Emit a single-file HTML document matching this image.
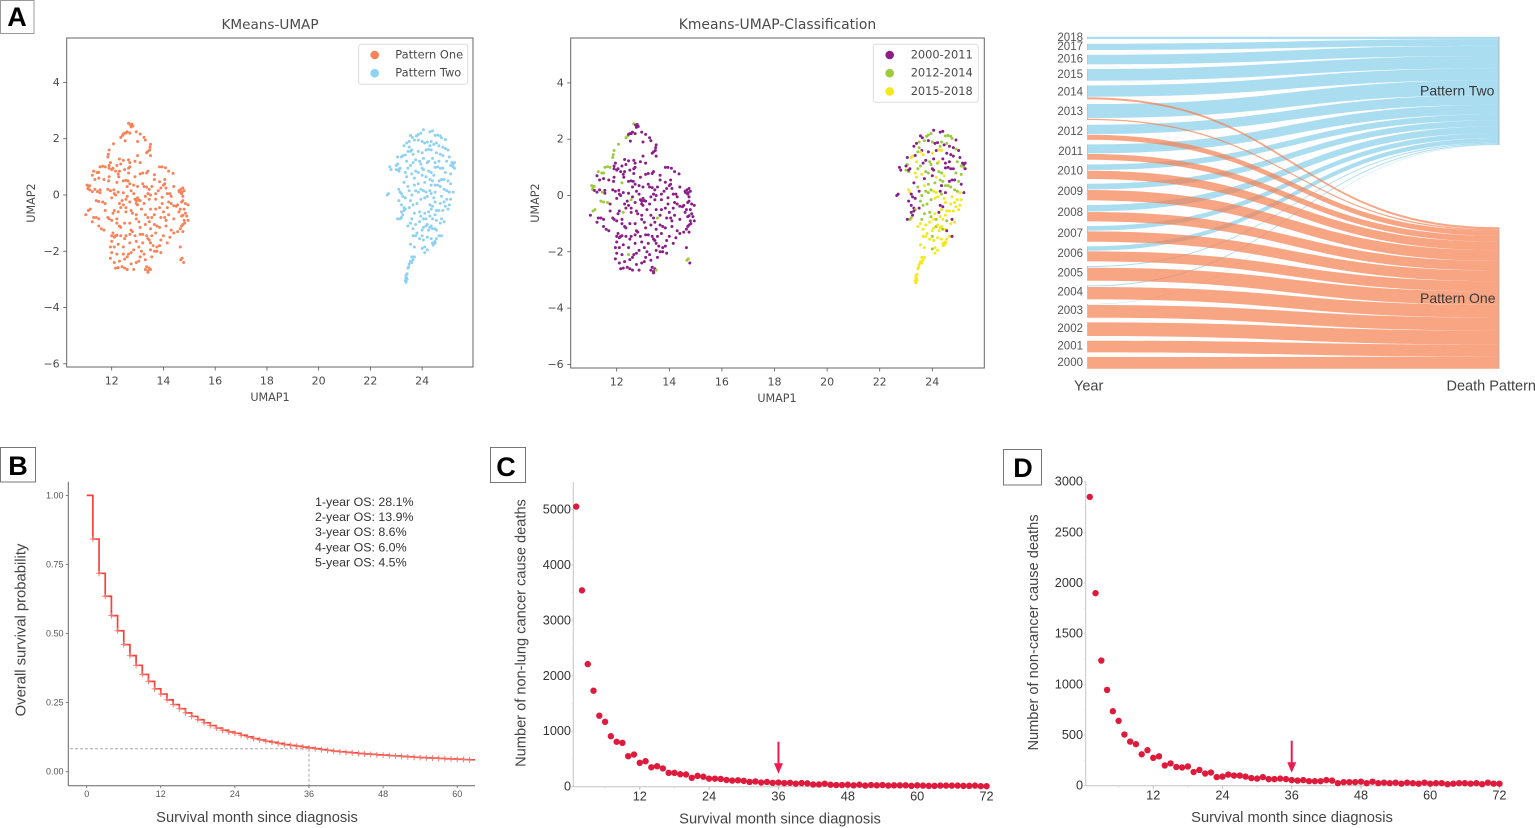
<!DOCTYPE html>
<html lang="en">
<head>
<meta charset="utf-8">
<title>Death pattern and survival figure</title>
<style>
html,body{margin:0;padding:0;background:#fff;}
body{width:1535px;height:828px;overflow:hidden;}
svg{display:block;}
text{dominant-baseline:central;}
.dv{font-family:"DejaVu Sans",sans-serif;fill:#4a4a4a;}
.ls{font-family:"Liberation Sans",sans-serif;}
.panel-letter{font-family:"Liberation Sans",sans-serif;font-weight:700;font-size:27px;fill:#000;text-anchor:middle;}
</style>
</head>
<body>
<svg id="figure" xmlns="http://www.w3.org/2000/svg" width="1535" height="828" viewBox="0 0 1535 828">
<rect x="0" y="0" width="1535" height="828" fill="#ffffff"/>

<g><rect x="0.5" y="0.5" width="33.5" height="33" fill="#fff" stroke="#999"/><text class="panel-letter" x="17" y="17">A</text></g>
<g><rect x="0.5" y="447.5" width="35" height="34.5" fill="#fff" stroke="#777"/><text class="panel-letter" x="18" y="466">B</text></g>
<g><rect x="490.5" y="447.5" width="35" height="35" fill="#fff" stroke="#777"/><text class="panel-letter" x="506" y="467">C</text></g>
<g><rect x="1003.5" y="449.5" width="38" height="35.5" fill="#fff" stroke="#777"/><text class="panel-letter" x="1023" y="468">D</text></g>

<g id="umapOne">
  <text class="dv" x="270" y="25" font-size="13.6" text-anchor="middle">KMeans-UMAP</text>
  <text class="dv" x="270" y="397.5" font-size="11.2" text-anchor="middle">UMAP1</text>
  <text class="dv" x="31.5" y="203" font-size="11.2" text-anchor="middle" transform="rotate(-90 31.5 203)">UMAP2</text>
</g>
<g id="umapTwo">
  <text class="dv" x="777.5" y="25" font-size="13.9" text-anchor="middle">Kmeans-UMAP-Classification</text>
  <text class="dv" x="777" y="398.5" font-size="11.2" text-anchor="middle">UMAP1</text>
  <text class="dv" x="535.5" y="203" font-size="11.2" text-anchor="middle" transform="rotate(-90 535.5 203)">UMAP2</text>
</g>
<g id="sankey"></g>
<g id="km">
  <text class="ls" x="257" y="818" font-size="14.7" fill="#444" text-anchor="middle">Survival month since diagnosis</text>
  <text class="ls" x="21.5" y="630" font-size="14.8" fill="#444" text-anchor="middle" transform="rotate(-90 21.5 630)">Overall survival probability</text>
  <g class="ls" font-size="12.4" fill="#333">
    <text x="315" y="502">1-year OS: 28.1%</text>
    <text x="315" y="517">2-year OS: 13.9%</text>
    <text x="315" y="532">3-year OS: 8.6%</text>
    <text x="315" y="547.3">4-year OS: 6.0%</text>
    <text x="315" y="562.3">5-year OS: 4.5%</text>
  </g>
</g>
<g id="chartC">
  <text class="ls" x="780" y="819.3" font-size="14.7" fill="#444" text-anchor="middle">Survival month since diagnosis</text>
  <text class="ls" x="521.5" y="633" font-size="14.6" fill="#444" text-anchor="middle" transform="rotate(-90 521.5 633)">Number of non-lung cancer cause deaths</text>
</g>
<g id="chartD">
  <text class="ls" x="1292" y="818" font-size="14.7" fill="#444" text-anchor="middle">Survival month since diagnosis</text>
  <text class="ls" x="1034" y="632.5" font-size="14.6" fill="#444" text-anchor="middle" transform="rotate(-90 1034 632.5)">Number of non-cancer cause deaths</text>
</g>
</svg>

<script>
// ---------- UMAP data: [UMAP1, UMAP2, year group (0 = 2000-2011 default, 1 = 2012-2014, 2 = 2015-2018)] ----------
const patternOnePoints = [
[12.65,2.55,1],[12.72,2.5],[12.78,2.52],[12.82,2.45],[12.75,2.42],[12.5,2.2],[12.42,2.12,1],[12.45,2.17],[12.55,2.2],[12.6,2.25],[12.35,2.05,1],[12.7,2.2],[12.95,2.25],[13.1,2.17],[13.25,2.05],[13.3,1.95],[12.52,1.93],[13,1.9],
[12.07,1.82,1],[11.9,1.6,1],[11.87,1.45,1],[11.85,1.35,1],[13.5,1.8],[13.48,1.7],[13.47,1.6],[13.4,1.55],[13.35,1.5],[13.5,1.4],[13,1.4],
[12.3,1.28],[12.45,1.23],[12.65,1.25],[12.7,1.15],[11.95,1.15],[11.9,1.05],[12.35,1.1],[12.2,1.05],[12.7,1],[12.65,0.95],[13.1,1.15],[12.9,1.2],
[11.55,1,1],[11.65,1.02,1],[11.75,1,1],[11.9,0.95],[12,0.9],[12.05,0.95],[12.5,0.9],[12.3,0.85],[12.25,0.75],[12.27,0.65],[13.85,1],[13.95,1],[14.08,0.97],[14.2,0.85],[11.3,0.85,1],[11.43,0.8,1],[11.5,0.8,1],[11.25,0.7],[13.4,0.85],[13.1,0.75],[13.2,0.78],[13.35,0.78],[12.65,0.78],[13.65,0.72],[14.37,0.77],[14.05,0.55],[13.85,0.47],[14.05,0.4],[13.65,0.55],
[11.35,0.55],[11.5,0.6],[11.7,0.55],[11.9,0.65],[11.88,0.5],[12.2,0.45,1],[12.45,0.5],[12.55,0.52],[12.63,0.5],[12.7,0.4],[12.6,0.3],[12.85,0.35],[13,0.3],[13.2,0.4],[13.25,0.3],[13.35,0.28],[13.45,0.2],[13.55,0.3],
[11.05,0.35,1],[11.1,0.3,1],[11.15,0.33,1],[11.08,0.22,1],[11.15,0.18],[11.25,0.12],[11.35,0.2],[11.45,0.12,1],[11.55,0.18],[11.55,0.08],[11.85,0.2],[11.95,0.15],[12.08,0.18],[12.1,0.05],[12.15,0],[12.25,0.1],[12.45,0.08],[12.85,0.05],[13.5,0],[13.4,0.05],[13.9,0.25],[14,0.35],[14.15,0.05],[14.25,0.05],[14.3,-0.05],[14.6,0.15],[14.67,0.2],[14.72,0.1],[14.75,0.25],[14.7,0.05],[14.8,0.15],[14.62,0.1],[14.75,-0.05],[14.1,0.25],
[11.4,-0.2,1],[11.5,-0.23,1],[11.65,-0.25,1],[11.75,-0.3],[12,-0.1],[12.4,-0.2],[12.3,-0.3],[12.55,-0.15,1],[12.45,-0.35],[12.7,-0.25],[12.9,-0.15],[12.95,-0.2],[13,-0.1],[13.05,-0.18],[13.1,-0.2],[13.3,-0.05],[13.45,-0.15],[12.95,-0.3],[13.7,-0.15],[13.95,-0.08],[14.2,-0.25],[14.3,-0.3],[14.4,-0.38],[14.5,-0.4],[14.55,-0.35],[14.7,-0.25],[14.75,-0.2],[14.85,-0.3],[14.95,-0.35],[14.65,-0.5],[14.8,-0.5],[13,-0.35],[13.95,-0.3],
[11,-0.7],[11.1,-0.55,1],[11.17,-0.5,1],[11.3,-0.8],[11.4,-0.8],[11.5,-0.85],[11.85,-0.8],[11.9,-0.85],[12,-0.9],[12.1,-0.55],[12.05,-0.65],[12.25,-0.6,1],[12.35,-0.45],[12.55,-0.45],[12.75,-0.55],[12.8,-0.65],[12.55,-0.6],[13.5,-0.5],[13.7,-0.5],[13.4,-0.8],[13.45,-0.95],[14,-0.6],[14.05,-0.8],[14.2,-0.7],[14.7,-0.75],[14.75,-0.72],[14.85,-0.65],[14.9,-0.75],[14.8,-0.9],[14.95,-0.9],[14.6,-0.6],[14.1,-0.9],[13.65,-0.7],[13.55,-0.8,1],[13.3,-0.7],
[11.25,-0.95],[11.5,-1.1],[11.6,-1.2],[11.7,-1.25],[12.2,-1],[12.3,-1.1],[12.35,-1.15],[12.5,-1],[12.7,-1],[12.95,-0.85],[13.05,-0.95],[13.1,-1.15],[13.3,-1.05],[13.5,-1.2],[13.65,-1.05],[13.75,-1.1],[13.85,-1.15],[14.1,-1.1],[14.3,-1.25],[14.55,-1.3],[14.65,-1.2],[14.7,-1.1],[14.75,-1.05],[14.82,-1],[14.4,-1.35],[14.75,-1.3],
[12,-1.65],[12,-1.45],[12.05,-1.35],[12.1,-1.5],[12.15,-1.45],[12.2,-1.43],[12.35,-1.45],[12.5,-1.55],[12.55,-1.45],[12.7,-1.4],[12.8,-1.3],[12.9,-1.45],[13.1,-1.4],[13.2,-1.4],[13.4,-1.55],[13.35,-1.45],[13.45,-1.6],[13.5,-1.7],[13.6,-1.8],[13.75,-1.85],[13.85,-1.8],[13.9,-1.6],[14,-1.45],[14.15,-1.7],[14.25,-1.5],[13.2,-1.7],[13.05,-1.85],[12.85,-1.95],[12.75,-2.05],[12.65,-2.1],[12.6,-2.2],[12.5,-2.28],
[11.95,-1.85],[12.1,-1.85],[12,-2.05],[11.95,-2.25],[12.2,-2.1],[12.3,-2.35],[12.1,-2.4],[12.15,-2.6],[12.25,-2.58],[12.4,-2.55],[12.5,-2.6],[12.6,-2.65],[12.75,-2.45],[12.85,-2.65],[12.95,-2.4],[13.1,-2.2],[13.15,-2],[13.25,-2.1],[13.3,-2.3],[13.35,-2.55],[13.4,-2.7],[13.45,-2.6],[13.4,-2.75],[13.5,-2.65,1],[13.3,-2.65],[13.55,-2.2],[13.65,-2],[14.65,-1.85],[14.67,-2.3,1],[14.72,-2.25,1],[14.78,-2.4],[13.75,-2],[13.5,-1.95],[12.45,-2.1,1],
[12.15,0.85],[12.9,0.65],[13.8,0.15],[13.7,0.05],[12.6,-0.05],[12.75,0.15],[13.15,-0.5],[13.25,-0.3],[12.2,-0.85],[11.75,-0.55],[13.9,-0.8],[13.85,-0.45],[14.15,-0.45],[12.95,-0.7],[12.75,-1.25],[13.7,-1.35],[13.55,-1.45],[13.05,-2.35],[12.45,-1.85],[12.25,-1.75],[12.7,-1.7],[12.95,-1.65],[13.9,-2.05],[14.4,-0.85],[14.4,0.3]
];
const patternTwoPoints = [
[24.05,2.32,0],[24.3,2.25,0],[24.4,2.28,0],[23.95,2.2,1],[23.85,2.15,1],[23.78,2.1,1],[23.55,2.12,0],[23.62,2.05,0],[24.5,2.12,1],[24.6,2.13,1],[24.7,2.1,1],[24.75,2.03,1],[24.9,1.97,0],
[23.4,1.85,0],[23.5,1.9,1],[23.7,1.95,1],[23.85,1.95,0],[24,1.9,1],[24.1,1.85,0],[24.2,1.88,0],[24.3,1.75,1],[24.35,1.9,1],[24.45,1.8,0],[24.55,1.85,1],[24.65,1.75,0],[24.8,1.7,0],[24.9,1.65,1],
[23.3,1.75,0],[23.45,1.55,1],[23.5,1.7,1],[23.6,1.6,0],[23.65,1.45,2],[23.25,1.4,2],[23.2,1.35,2],[23.05,1.35,0],[23.35,1.42,0],[23.55,1.55,2],[23.85,1.55,0],[24,1.5,2],[24.15,1.6,0],[24.25,1.62,2],[24.35,1.6,2],[24.55,1.5,0],[24.7,1.45,0],[24.8,1.4,0],[25,1.6,0],[25.05,1.35,0],
[23.05,1.1,1],[23,1.05,0],[23.4,1.2,2],[23.75,1.25,0],[23.9,1.2,1],[23.95,1.1,1],[24.05,1.3,0],[24.2,1.15,1],[24.25,1.2,2],[24.4,1.3,0],[24.5,1.15,0],[24.65,1.2,0],[24.95,1.2,1],[25.15,1.15,0],[25.2,1.1,0],[25.25,1.15,0],[25.1,1.05,1],[25.2,1,1],
[22.75,1,0],[22.8,0.9,0],[23,0.9,1],[23.1,0.85,1],[23.15,0.95,0],[23.45,0.95,1],[23.55,1.05,1],[23.75,0.85,1],[23.85,0.8,1],[24,0.95,0],[24.05,0.9,0],[24.5,0.98,0],[24.6,1,0],[24.7,0.95,0],[25.25,0.95,0],[25.1,0.75,1],[24.35,0.8,1],[24.45,0.7,2],[23.35,0.8,2],[23.1,0.9,0],
[23.4,0.65,2],[23.6,0.75,2],[23.7,0.6,0],[24,0.7,0],[24.3,0.55,1],[24.4,0.5,1],[24.5,0.35,1],[24.65,0.5,0],[24.75,0.55,0],[24.6,0.35,1],[24.7,0.3,1],[24.85,0.55,0],[25,0.5,1],[25.1,0.4,0],[24.35,0.35,0],[24.1,0.45,1],[23.85,0.4,1],[23.7,0.35,2],
[22.65,0,0],[22.7,0.05,0],[23.1,0.2,2],[23.15,0.1,2],[23.2,0.05,0],[23.25,-0.05,0],[23.35,-0.1,0],[23.6,0,1],[23.75,0.15,1],[23.85,0.1,1],[23.95,0.2,1],[24.15,0.1,2],[24.3,0.15,0],[24.35,0.05,1],[24.5,0.1,0],[24.85,0.2,1],[24.95,0.15,1],[25.05,0.1,2],[25.2,0.1,0],[24.75,-0.05,2],[24.45,-0.1,2],
[23.1,-0.2,0],[23.2,-0.35,0],[23.3,-0.45,0],[23.35,-0.5,1],[23.65,-0.35,1],[23.8,-0.3,1],[24.1,-0.1,2],[24.2,-0.05,2],[24.3,-0.35,0],[24.4,-0.4,0],[24.35,-0.5,2],[24.5,-0.25,2],[24.7,-0.3,2],[24.85,-0.25,2],[24.9,-0.4,2],[24.95,-0.15,2],[25.1,-0.15,2],[25.05,-0.35,2],[25,-0.5,2],
[23.2,-0.6,0],[23.25,-0.7,0],[23.15,-0.85,1],[23.05,-0.85,0],[23.2,-0.8,1],[23.3,-0.55,0],[23.6,-0.85,1],[23.9,-0.6,1],[23.95,-0.75,1],[24.1,-0.65,2],[24.15,-0.85,1],[24.05,-0.85,2],[24.3,-0.75,2],[24.5,-0.7,2],[24.4,-0.85,2],[24.65,-0.55,2],[24.8,-0.55,2],[24.55,-0.9,1],[24.75,-0.85,0],
[23.45,-1.1,2],[23.55,-1,2],[23.65,-1.2,2],[23.75,-1.05,2],[23.8,-1.35,2],[23.75,-1.45,2],[23.65,-1.45,2],[24.15,-1.1,1],[24.2,-1.05,2],[24.3,-1.15,2],[24.35,-1.1,2],[24.25,-1.25,2],[24.4,-1.2,1],[24.5,-1.2,2],[24.55,-1.25,0],[24.7,-1,2],[24.85,-0.95,2],[24.05,-1.15,2],
[23.9,-1.55,2],[24,-1.45,1],[24.05,-1.6,2],[24.2,-1.5,2],[24.35,-1.55,2],[24.4,-1.7,2],[24.45,-1.75,2],[24.5,-1.65,2],[24.55,-1.55,2],[24.65,-1.45,2],[24.75,-1.45,0],[24.42,-1.78,2],[24.5,-1.7,2],[23.55,-1.75,2],[23.7,-1.85,2],[24.1,-1.85,2],[24.2,-1.95,2],[24.1,-2.05,2],[24,-1.9,1],
[23.6,-2.2,2],[23.65,-2.3,2],[23.55,-2.35,2],[23.7,-2.2,2],[23.6,-2.4,2],[23.5,-2.45,2],[23.45,-2.6,2],[23.42,-2.8,2],[23.38,-2.85,2],[23.4,-2.95,2],[23.35,-3.05,2],[23.38,-3.1,2],[23.42,-3,2],[23.37,-2.95,2],[23.48,-2.55,2],
[23.45,0.3,1],[23.5,0.15,0],[23.3,0.45,0],[23.55,-0.2,1],[23.95,-0.15,1],[24.05,0.15,2],[24.55,-0.55,2],[23.7,-0.65,1],[23.5,-0.45,0],[24.25,0.85,1],[24.15,0.65,2],[23.65,1.15,0],[24.8,0.95,0],[24.9,0.8,1],[24.25,-0.6,0],[24,-1.25,2],[23.9,-0.95,2]
];
const umapXTicks = [12,14,16,18,20,22,24];
const umapYTicks = [-6,-4,-2,0,2,4];
const patternLegend = ['Pattern One','Pattern Two'];
const yearGroupLegend = ['2000-2011','2012-2014','2015-2018'];

// ---------- Sankey data ----------
const sankeyYears = [2018,2017,2016,2015,2014,2013,2012,2011,2010,2009,2008,2007,2006,2005,2004,2003,2002,2001,2000];
const patternTwoByYear = [7,19,29,35,34,42,28,27,17,17,19,14,13,3,3,1,0,0,0];
const patternOneByYear = [0,0,0,0,6,4,15,17,25,31,28,31,30,39,37,38,41,35,35];

// ---------- Survival curve data ----------
const survivalProbability = [1,.842,.718,.635,.565,.51,.46,.42,.385,.352,.327,.3,.281,.26,.243,.228,.213,.2,.188,.177,.167,.158,.15,.144,.139,.132,.126,.12,.115,.11,.106,.102,.098,.095,.092,.089,.086,.083,.08,.077,.074,.072,.07,.068,.066,.064,.063,.061,.06,.058,.057,.055,.054,.052,.051,.05,.049,.048,.047,.046,.045,.044,.043];
const survivalXTicks = [0,12,24,36,48,60];
const survivalYTicks = [0,0.25,0.5,0.75,1];
const survivalMarkerMonth = 36;
const survivalMarkerProbability = 0.083;

// ---------- Monthly death counts ----------
const nonLungDeaths = [5050,3540,2210,1730,1280,1170,910,810,790,550,580,430,460,350,370,330,250,250,225,220,160,195,180,145,145,140,120,110,115,105,85,95,75,85,70,75,65,70,55,65,60,40,40,55,35,30,30,35,25,35,20,30,25,30,20,25,25,25,15,25,20,15,15,20,20,20,20,15,15,20,10,10];
const nonCancerDeaths = [2850,1900,1235,945,735,640,505,435,410,310,350,275,290,200,220,185,180,190,135,155,120,130,85,90,110,100,100,90,75,70,85,65,65,70,65,55,50,55,45,45,45,55,50,25,35,35,35,40,25,40,25,30,25,30,20,30,25,20,30,20,25,25,15,20,25,25,20,25,15,30,20,20];
const deathXTicks = [12,24,36,48,60,72];
const nonLungYTicks = [0,1000,2000,3000,4000,5000];
const nonCancerYTicks = [0,500,1000,1500,2000,2500,3000];
const arrowMonth = 36;

const NS = 'http://www.w3.org/2000/svg';
function mk(tag, attrs, parent){
  const el = document.createElementNS(NS, tag);
  for (const k in attrs) el.setAttribute(k, attrs[k]);
  parent.appendChild(el);
  return el;
}
function label(parent, x, y, str, size, fill, anchor, cls){
  const t = mk('text',{x:x,y:y,'font-size':size,fill:fill,'text-anchor':anchor,'class':cls},parent);
  t.textContent = str;
  return t;
}

// ---------- UMAP panels ----------
function drawUmap(root, box, xScale, yScale, colorOf, legendItems, legendColors, legendBox, legendMarkX, legendTextX){
  const frame = mk('rect',{x:box.l,y:box.t,width:box.r-box.l,height:box.b-box.t,fill:'#fff',stroke:'#666','stroke-width':1},root);
  
  
  umapXTicks.forEach(function(v){
    const tick = mk('line',{x1:xScale(v),x2:xScale(v),y1:box.b,y2:box.b+3.5,stroke:'#555','stroke-width':.8},root);
    
    
    const lab = label(root,xScale(v),box.b+14,String(v),11,'#4a4a4a','middle','dv');
    
    
  });
  umapYTicks.forEach(function(v){
    const tick = mk('line',{x1:box.l-3.5,x2:box.l,y1:yScale(v),y2:yScale(v),stroke:'#555','stroke-width':.8},root);
    
    
    const lab = label(root,box.l-7,yScale(v),String(v).replace('-','\u2212'),11,'#4a4a4a','end','dv');
    
    
  });
  patternOnePoints.forEach(function(p){
    const dot = mk('circle',{cx:xScale(p[0]),cy:yScale(p[1]),r:1.5,fill:colorOf(p,0)},root);
    
    
  });
  patternTwoPoints.forEach(function(p){
    const dot = mk('circle',{cx:xScale(p[0]),cy:yScale(p[1]),r:1.5,fill:colorOf(p,1)},root);
    
    
  });
  const legend = mk('rect',{x:legendBox.x,y:legendBox.y,width:legendBox.w,height:legendBox.h,rx:2.5,fill:'#fff',stroke:'#ddd','stroke-width':1},root);
  
  
  legendItems.forEach(function(name,i){
    const y = 55 + i*18.2;
    const mark = mk('circle',{cx:legendMarkX,cy:y,r:4.3,fill:legendColors[i]},root);
    
    
    const lab = label(root,legendTextX,y-0.5,name,11.4,'#4a4a4a','start','dv');
    
    
  });
}
const patternColors = ['#f98258','#8fd1f1'];
const groupColors = ['#8a2087','#9ccb3c','#f4e81c'];
drawUmap(document.getElementById('umapOne'),{l:66.7,r:473,t:38,b:367},
  function(v){return 111.7+(v-12)*25.87;},
  function(v){return 195-v*28.13;},
  function(p,pattern){return patternColors[pattern];},
  patternLegend,patternColors,{x:358.7,y:44.3,w:109,h:40},374.7,395.3);
drawUmap(document.getElementById('umapTwo'),{l:570.7,r:984.3,t:38,b:368},
  function(v){return 616.7+(v-12)*26.3;},
  function(v){return 195.5-v*28.15;},
  function(p){return groupColors[p[2]||0];},
  yearGroupLegend,groupColors,{x:873.3,y:44.3,w:105,h:58},889.7,910.7);

// ---------- Sankey ----------
(function(){
  const root = document.getElementById('sankey');
  const xL = 1087.5, xR = 1499, top = 36.7, bottom = 368.7, unit = 1/3, innerGap = 2/3;
  const twoTop = 36.7, twoBottom = 145, oneTop = 227.3, oneBottom = 368.7;
  const sum = function(a){return a.reduce(function(s,v){return s+v;},0);};
  const twoScale = (twoBottom-twoTop)/sum(patternTwoByYear);
  const oneScale = (oneBottom-oneTop)/sum(patternOneByYear);
  let innerCount = 0;
  sankeyYears.forEach(function(y,i){ if (patternTwoByYear[i]>0 && patternOneByYear[i]>0) innerCount++; });
  const gap = (bottom-top-(sum(patternTwoByYear)+sum(patternOneByYear))*unit-innerCount*innerGap)/(sankeyYears.length-1);
  function flowPath(x0,x1,a0,a1,b0,b1){
    const m=(x0+x1)/2;
    return 'M'+x0+' '+a0+'C'+m+' '+a0+' '+m+' '+b0+' '+x1+' '+b0+'L'+x1+' '+b1+'C'+m+' '+b1+' '+m+' '+a1+' '+x0+' '+a1+'Z';
  }
  let y = top, rightTwo = twoTop, rightOne = oneTop;
  const twoLayer = mk('g',{},root);
  
  
  const oneLayer = mk('g',{},root);
  
  
  sankeyYears.forEach(function(year,i){
    const start = y;
    const two = patternTwoByYear[i], one = patternOneByYear[i];
    if (two>0){
      const h = two*unit, rh = two*twoScale;
      const f = mk('path',{d:flowPath(xL,xR,y,y+h,rightTwo,rightTwo+rh),fill:'#87ceeb','fill-opacity':.7},twoLayer);
      
      
      y += h; rightTwo += rh;
      if (one>0) y += innerGap;
    }
    if (one>0){
      const h = one*unit, rh = one*oneScale;
      const f = mk('path',{d:flowPath(xL,xR,y,y+h,rightOne,rightOne+rh),fill:'#f57f50','fill-opacity':.7},oneLayer);
      
      
      y += h; rightOne += rh;
    }
    const node = mk('line',{x1:xL,x2:xL,y1:start,y2:y,stroke:'#bbb','stroke-width':.8},root);
    
    
    const lab = label(root,1083,(start+y)/2,String(year),11.5,'#555','end','ls');
    
    
    y += gap;
  });
  const nodeTwo = mk('line',{x1:xR,x2:xR,y1:twoTop,y2:twoBottom,stroke:'#aaa','stroke-width':.8},root);
  
  
  const nodeOne = mk('line',{x1:xR,x2:xR,y1:oneTop,y2:oneBottom,stroke:'#aaa','stroke-width':.8},root);
  
  
  const two = label(root,1420,90.3,'Pattern Two',14,'#3a3a3a','start','ls');
  
  
  const one = label(root,1420,298,'Pattern One',14,'#3a3a3a','start','ls');
  
  
  const yearAxis = label(root,1074,386.7,'Year',14.5,'#444','start','ls');
  
  
  const patternAxis = label(root,1446.5,386.7,'Death Pattern',14.5,'#444','start','ls');
  
  
})();

// ---------- Survival curve ----------
(function(){
  const root = document.getElementById('km');
  const x = function(t){return 86.7+t*6.175;};
  const y = function(p){return 771.7-p*276.3;};
  const spineX = 68.3, baseY = 785.7, xEnd = 475;
  const dashH = mk('line',{x1:70,x2:x(survivalMarkerMonth),y1:y(survivalMarkerProbability),y2:y(survivalMarkerProbability),stroke:'#a8a8a8','stroke-width':1,'stroke-dasharray':'3 2'},root);
  
  
  const dashV = mk('line',{x1:x(survivalMarkerMonth),x2:x(survivalMarkerMonth),y1:y(survivalMarkerProbability),y2:baseY,stroke:'#a8a8a8','stroke-width':1,'stroke-dasharray':'3 2'},root);
  
  
  const spineL = mk('line',{x1:spineX,x2:spineX,y1:481.7,y2:baseY,stroke:'#666','stroke-width':1},root);
  
  
  const spineB = mk('line',{x1:spineX,x2:xEnd,y1:baseY,y2:baseY,stroke:'#666','stroke-width':1},root);
  
  
  survivalXTicks.forEach(function(v){
    const tick = mk('line',{x1:x(v),x2:x(v),y1:baseY,y2:baseY+2.5,stroke:'#666','stroke-width':.8},root);
    
    
    const lab = label(root,x(v),793.8,String(v),9,'#555','middle','ls');
    
    
  });
  survivalYTicks.forEach(function(v){
    const tick = mk('line',{x1:spineX-2.5,x2:spineX,y1:y(v),y2:y(v),stroke:'#666','stroke-width':.8},root);
    
    
    const lab = label(root,63.5,y(v),v.toFixed(2),9,'#555','end','ls');
    
    
  });
  let d = 'M'+x(0)+' '+y(survivalProbability[0]);
  survivalProbability.forEach(function(p,t){
    if (t>0) d += 'L'+x(t)+' '+y(survivalProbability[t-1])+'L'+x(t)+' '+y(p);
  });
  d += 'L'+xEnd+' '+y(survivalProbability[survivalProbability.length-1]);
  const curve = mk('path',{d:d,fill:'none',stroke:'#f4433a','stroke-width':1.7},root);
  
  
  survivalProbability.forEach(function(p,t){
    if (t===0) return;
    const mark = mk('path',{d:'M'+(x(t)-3)+' '+y(p)+'H'+(x(t)+3)+'M'+x(t)+' '+(y(p)-3)+'V'+(y(p)+3),fill:'none',stroke:'#f6776e','stroke-width':.9},root);
    
    
  });
})();

// ---------- Death count scatter charts ----------
function drawDeaths(root, values, yTicks, x0, pxPerMonth, spineX, xEnd, baseY, topY, pxPerUnit, labelRight, xLabelY){
  const x = function(t){return x0+t*pxPerMonth;};
  const y = function(v){return baseY-v*pxPerUnit;};
  const axisY = mk('line',{x1:spineX,x2:spineX,y1:topY,y2:baseY,stroke:'#c4c4c4','stroke-width':1},root);
  
  
  const axisX = mk('line',{x1:spineX,x2:xEnd,y1:baseY,y2:baseY,stroke:'#c4c4c4','stroke-width':1},root);
  
  
  deathXTicks.forEach(function(v){
    const tick = mk('line',{x1:x(v),x2:x(v),y1:baseY,y2:baseY+3,stroke:'#bbb','stroke-width':1},root);
    
    
    const minor = mk('line',{x1:x(v-6),x2:x(v-6),y1:baseY,y2:baseY+2,stroke:'#ddd','stroke-width':1},root);
    
    
    const lab = label(root,x(v),xLabelY,String(v),12.7,'#333','middle','ls');
    
    
  });
  yTicks.forEach(function(v,i){
    const tick = mk('line',{x1:spineX-2,x2:spineX,y1:y(v),y2:y(v),stroke:'#ccc','stroke-width':1},root);
    
    
    const lab = label(root,labelRight,y(v),String(v),12.7,'#333','end','ls');
    
    
    if (i>0){
      const mid = (v+yTicks[i-1])/2;
      const minor = mk('line',{x1:spineX-1.5,x2:spineX,y1:y(mid),y2:y(mid),stroke:'#ddd','stroke-width':1},root);
      
      
    }
  });
  values.forEach(function(v,i){
    const dot = mk('circle',{cx:x(i+1),cy:y(v),r:3.2,fill:'#de1b3c'},root);
    
    
  });
  const ax = x(arrowMonth);
  const shaft = mk('line',{x1:ax,x2:ax,y1:baseY-45,y2:baseY-20,stroke:'#ee1c4e','stroke-width':2},root);
  
  
  const head = mk('polygon',{points:(ax-4.5)+','+(baseY-23.5)+' '+(ax+4.5)+','+(baseY-23.5)+' '+ax+','+(baseY-13),fill:'#ee1c4e'},root);
  
  
}
drawDeaths(document.getElementById('chartC'),nonLungDeaths,nonLungYTicks,570.4,5.78,573.3,989,786.7,482,0.05547,571,796.7);
drawDeaths(document.getElementById('chartD'),nonCancerDeaths,nonCancerYTicks,1084,5.77,1085.7,1503,785.7,481.7,0.10133,1083,795.7);
</script>
</body>
</html>
